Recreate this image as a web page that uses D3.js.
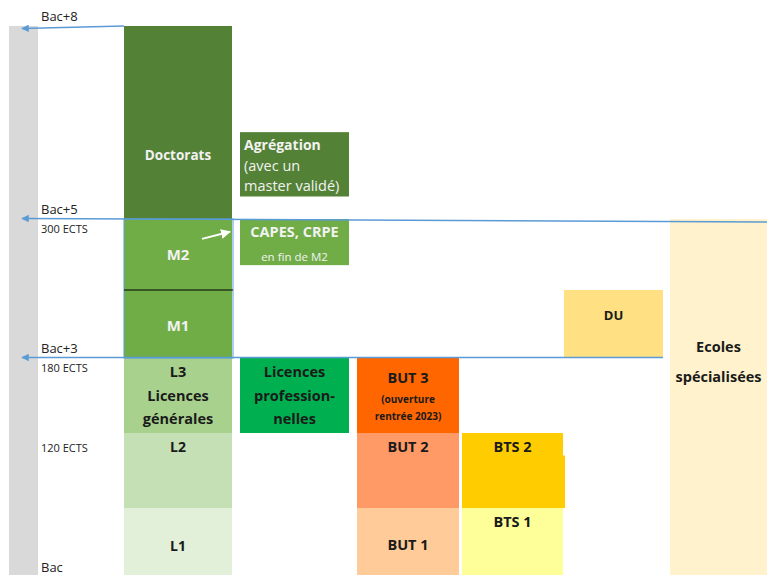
<!DOCTYPE html>
<meta charset="utf-8">
<script src="https://d3js.org/d3.v7.min.js"></script>
<style>
  body { margin: 0; background: #fff; }
  text { font-family: "Open Sans", "Noto Sans", sans-serif; }
</style>
<div id="my_dataviz"></div>
<script>

  // years after the bac (levels) and the cursus boxes
  var levels = [0, 1, 2, 3, 4, 5, 8];
  var columns = ["Licence", "Autres", "BUT", "BTS", "DU", "Ecoles"];

  var boxes = [
    {name: "Doctorats", col: 0, from: 5, to: 8},
    {name: "M2", col: 0, from: 4, to: 5},
    {name: "M1", col: 0, from: 3, to: 4},
    {name: "L3", col: 0, from: 2, to: 3},
    {name: "L2", col: 0, from: 1, to: 2},
    {name: "L1", col: 0, from: 0, to: 1},
    {name: "Agregation", col: 1, from: 5.35, to: 6.35},
    {name: "CAPES", col: 1, from: 4.35, to: 5},
    {name: "LP", col: 1, from: 2, to: 3},
    {name: "BUT3", col: 2, from: 2, to: 3},
    {name: "BUT2", col: 2, from: 1, to: 2},
    {name: "BUT1", col: 2, from: 0, to: 1},
    {name: "BTS2", col: 3, from: 1, to: 2},
    {name: "BTS1", col: 3, from: 0, to: 1},
    {name: "DU", col: 4, from: 3, to: 4},
    {name: "Ecoles", col: 5, from: 0, to: 5}
  ];

  // labels of each box: [text, weight, size]
  var labels = {
    Doctorats: [["Doctorats", "bold", 13.5]],
    M2: [["M2", "bold", 15]],
    M1: [["M1", "bold", 15]],
    L3: [["L3", "bold", 14.5], ["Licences", "bold", 14.5], ["générales", "bold", 14.5]],
    L2: [["L2", "bold", 14]],
    L1: [["L1", "bold", 14]],
    Agregation: [["Agrégation", "bold", 14], ["(avec un", "normal", 14.5], ["master validé)", "normal", 14.5]],
    CAPES: [["CAPES, CRPE", "bold", 14.5], ["en fin de M2", "normal", 11.5]],
    LP: [["Licences", "bold", 14.5], ["profession-", "bold", 14.5], ["nelles", "bold", 14.5]],
    BUT3: [["BUT 3", "bold", 14.5], ["(ouverture", "bold", 10], ["rentrée 2023)", "bold", 10]],
    BUT2: [["BUT 2", "bold", 14.5]],
    BUT1: [["BUT 1", "bold", 14.5]],
    BTS2: [["BTS 2", "bold", 14.5]],
    BTS1: [["BTS 1", "bold", 14.5]],
    DU: [["DU", "bold", 13]],
    Ecoles: [["Ecoles", "bold", 14.5], ["spécialisées", "bold", 14.5]]
  };

  var markers = [
    {label: "Bac+8", ects: null, level: 8},
    {label: "Bac+5", ects: "300 ECTS", level: 5},
    {label: "Bac+3", ects: "180 ECTS", level: 3},
    {label: null, ects: "120 ECTS", level: 2},
    {label: "Bac", ects: null, level: 0}
  ];

  var colors = {
    Doctorats: "#538135", M2: "#70AD47", M1: "#70AD47",
    L3: "#A9D18E", L2: "#C5E0B4", L1: "#E2F0D9",
    Agregation: "#538135", CAPES: "#70AD47", LP: "#00B050",
    BUT3: "#FF6600", BUT2: "#FF9966", BUT1: "#FFCC99",
    BTS2: "#FFCC00", BTS1: "#FFFF99", DU: "#FFE083", Ecoles: "#FFF2CC"
  };
  var darkText = {L3: 1, L2: 1, L1: 1, LP: 1, BUT3: 1, BUT2: 1, BUT1: 1, BTS2: 1, BTS1: 1, DU: 1, Ecoles: 1};
  // level of the first text baseline, and line spacing
  var textLevel = {
    Doctorats: 5.92, M2: 4.42, M1: 3.4, L3: 2.75, L2: 1.75, L1: 0.36,
    Agregation: 6.07, CAPES: 4.75, LP: 2.75, BUT3: 2.67, BUT2: 1.75, BUT1: 0.37,
    BTS2: 1.75, BTS1: 0.72, DU: 3.56, Ecoles: 3.09
  };
  var lineGap = {L3: [24, 23], LP: [24, 23], Agregation: [21, 20], CAPES: [24], BUT3: [20, 17], Ecoles: [30]};

  var width = 767, height = 575;

  var svg = d3.select("#my_dataviz")
    .append("svg")
      .attr("width", width)
      .attr("height", height);

  // y : level -> pixel (years of doctorate are drawn tighter)
  var y = d3.scaleLinear()
    .domain(levels)
    .range([575, 508, 433, 358, 290, 219, 26]);

  // x : column edges
  var x = d3.scaleLinear()
    .domain([0, 1, 2, 3, 4, 5, 6])
    .range([124, 240, 357, 462, 564, 670, 767]);
  var gap = [8, 8, 3, 1, 7, 0];

  // grey scale bar on the left
  svg.append("rect")
    .attr("x", 9).attr("y", y(8))
    .attr("width", 29).attr("height", y(0) - y(8))
    .style("fill", "#D9D9D9");

  svg.selectAll(".box")
    .data(boxes)
    .enter()
    .append("rect")
      .attr("class", "box")
      .attr("x", function(d) { return x(d.col) })
      .attr("y", function(d) { return y(d.to) })
      .attr("width", function(d) { return x(d.col + 1) - x(d.col) - gap[d.col] })
      .attr("height", function(d) { return y(d.from) - y(d.to) })
      .style("fill", function(d) { return colors[d.name] });

  // BTS 2 little notch
  svg.append("rect")
    .attr("x", x(4) - 1).attr("y", y(1.7))
    .attr("width", 2).attr("height", y(1) - y(1.7))
    .style("fill", colors.BTS2);

  // master outline and separator
  svg.append("rect")
    .attr("x", x(0)).attr("y", y(5))
    .attr("width", x(1) - x(0) - 7).attr("height", y(3) - y(5))
    .style("fill", "none").style("stroke", "#5B9BD5").style("stroke-width", 1);
  svg.append("line")
    .attr("x1", x(0)).attr("x2", x(1) - 7)
    .attr("y1", y(4)).attr("y2", y(4))
    .style("stroke", "#000").style("stroke-width", 1.2);

  // box labels
  boxes.forEach(function(d) {
    var lines = labels[d.name];
    var left = d.name == "Agregation";
    var cx = left ? x(d.col) + 4 : (x(d.col) + x(d.col + 1) - gap[d.col]) / 2;
    var t = svg.append("text")
      .attr("text-anchor", left ? "start" : "middle")
      .style("fill", darkText[d.name] ? "#1a1a1a" : "#F2F2F2");
    var yy = y(textLevel[d.name]);
    lines.forEach(function(l, i) {
      if (i > 0) yy += lineGap[d.name][i - 1];
      t.append("tspan")
        .attr("x", cx).attr("y", yy)
        .style("font-weight", l[1])
        .style("font-size", l[2] + "px")
        .text(l[0]);
    });
  });

  // arrow heads
  svg.append("defs").selectAll("marker")
    .data(["blue", "white"])
    .enter().append("marker")
      .attr("id", function(d) { return "arr-" + d })
      .attr("viewBox", "0 0 10 10")
      .attr("refX", 9).attr("refY", 5)
      .attr("markerWidth", 5).attr("markerHeight", 5)
      .attr("orient", "auto")
    .append("path")
      .attr("d", "M0,0L10,5L0,10z")
      .style("fill", function(d) { return d == "blue" ? "#5B9BD5" : "#fff" });

  // small white arrow towards CAPES
  svg.append("line")
    .attr("x1", 202).attr("y1", y(4.72))
    .attr("x2", 230).attr("y2", y(4.82))
    .style("stroke", "#fff").style("stroke-width", 2)
    .attr("marker-end", "url(#arr-white)");

  // level lines with arrows
  var arrows = [
    {level: 8, x0: x(0), y0: y(8), y1: y(8) + 2.5},
    {level: 5, x0: width, y0: y(5) + 3, y1: y(5) - 0.5},
    {level: 3, x0: x(5) - 7, y0: y(3) - 0.5, y1: y(3) - 0.5}
  ];
  svg.selectAll(".lvl")
    .data(arrows)
    .enter()
    .append("line")
      .attr("class", "lvl")
      .attr("x1", function(d) { return d.x0 })
      .attr("y1", function(d) { return d.y0 })
      .attr("x2", 22)
      .attr("y2", function(d) { return d.y1 })
      .style("stroke", "#5B9BD5")
      .style("stroke-width", 1.5)
      .attr("marker-end", "url(#arr-blue)");

  // left labels
  markers.forEach(function(m) {
    if (m.label) {
      svg.append("text")
        .attr("x", 41)
        .attr("y", m.level == 0 ? y(0) - 3 : y(m.level) - 5)
        .style("font-size", "13px")
        .style("fill", "#222")
        .text(m.label);
    }
    if (m.ects) {
      svg.append("text")
        .attr("x", 41)
        .attr("y", m.level == 2 ? y(2) + 19 : y(m.level) + 14)
        .style("font-size", "11px")
        .style("fill", "#222")
        .text(m.ects);
    }
  });

</script>
